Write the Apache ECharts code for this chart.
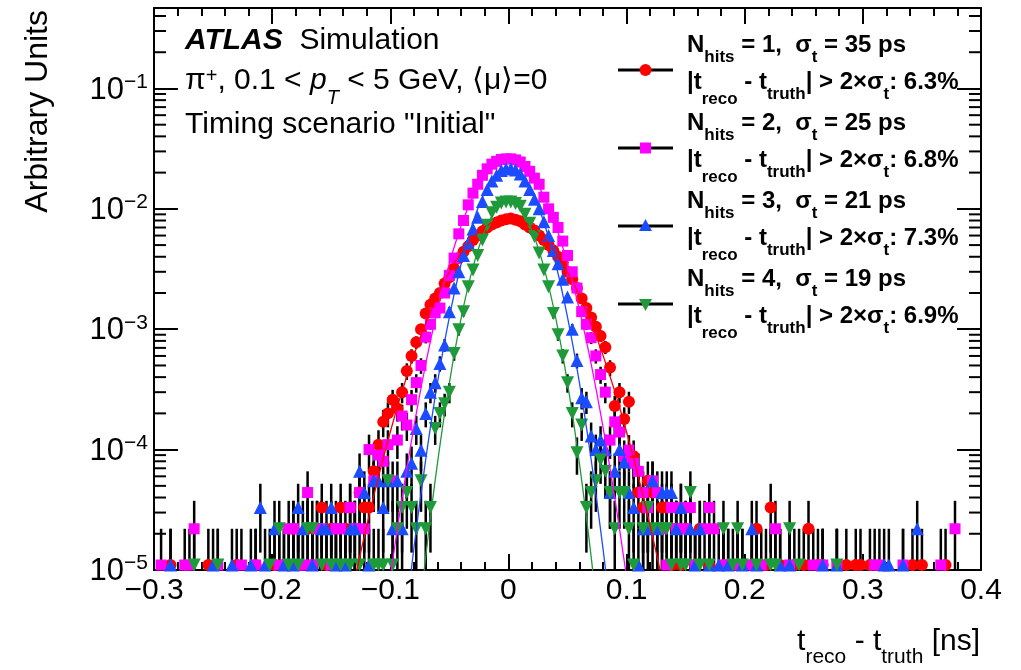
<!DOCTYPE html>
<html>
<head>
<meta charset="utf-8">
<script src="https://cdn.jsdelivr.net/npm/echarts@6/dist/echarts.min.js"></script>
<style>
  html, body { margin: 0; padding: 0; background: #fff; }
  #chart { width: 1021px; height: 670px; }
</style>
</head>
<body>
<div id="chart"></div>
<script>
// axis ranges
const XMIN = -0.3, XMAX = 0.4
const YMIN = 1e-5, YMAX = 0.466

// histogram binning: 4 ps bins starting at -0.3 ns
const BIN_LO = -0.3
const BIN_W = 0.004
// bin contents are written in units of 1e-5, one event ~ 1.1
const UNIT = 1e-5
const ENTRY = 1.1

// N_hits = 1 (red circles)
const redVals = [
  0, 0, 0, 1.1, 0, 0, 0, 0, 0, 0, 0, 1.1, 0, 0, 0, 0, 0, 1.1, 0, 0, 0, 1.1, 0, 0, 0,
  1.1, 0, 1.1, 0, 2.2, 1.1, 0, 2.2, 1.1, 2.2, 3.3, 1.1, 2.2, 1.1, 3.3, 2.2, 3.3, 2.2, 4.4, 3.3, 3.3, 6.6, 11, 17, 20,
  26, 22, 30, 45, 60, 78, 100, 135, 160, 180, 200, 240, 270, 320, 390, 440, 490, 550, 600, 650, 700, 740, 770, 800, 820,
  830, 810, 790, 740, 700, 660, 600, 550, 500, 450, 400, 360, 300, 260, 220, 180, 150, 125, 105, 88, 71, 48, 23, 30, 18,
  25, 8.8, 4.4, 3.3, 5.5, 4.4, 2.2, 3.3, 3.3, 1.1, 2.2, 1.1, 2.2, 0, 1.1, 2.2, 0, 1.1, 0, 0, 1.1, 0, 0, 1.1, 0,
  0, 1.1, 2.2, 0, 1.1, 3.3, 0, 1.1, 0, 0, 1.1, 0, 1.1, 2.2, 0, 1.1, 1.1, 0, 0, 0, 0, 1.1, 0, 1.1, 1.1,
  0, 1.1, 0, 0, 0, 0, 0, 0, 0, 0, 1.1, 0, 1.1, 0, 0, 0, 0, 1.1, 0, 0, 0, 0, 0, 0, 0
]
// N_hits = 2 (magenta squares)
const magentaVals = [
  0, 1.1, 0, 0, 0, 0, 1.1, 1.1, 2.2, 0, 0, 0, 0, 1.1, 0, 0, 0, 0, 1.1, 0, 0, 1.1, 0, 0, 0,
  0, 1.1, 0, 2.2, 2.2, 1.1, 1.1, 4.4, 1.1, 2.2, 2.2, 0, 1.1, 2.2, 2.2, 1.1, 3.3, 2.2, 4.4, 2.2, 10, 5.5, 9, 8, 11,
  5.5, 12, 19, 16, 26, 36, 50, 86, 110, 137, 150, 200, 280, 390, 620, 800, 1080, 1350, 1600, 1900, 2150, 2350, 2480, 2570, 2600,
  2600, 2550, 2450, 2250, 2050, 1800, 1600, 1250, 1000, 850, 700, 540, 410, 300, 220, 140, 110, 85, 60, 42, 30, 12, 17, 14, 8.8,
  9.9, 7.7, 6.6, 4.4, 3.3, 5.5, 4.4, 2.2, 1.1, 3.3, 2.2, 3.3, 2.2, 3.3, 1.1, 0, 2.2, 3.3, 2.2, 0, 1.1, 1.1, 0, 1.1, 0,
  0, 1.1, 0, 1.1, 0, 0, 2.2, 0, 0, 1.1, 0, 0, 0, 0, 1.1, 0, 1.1, 0, 0, 1.1, 0, 0, 0, 0, 0,
  0, 0, 1.1, 1.1, 0, 0, 0, 0, 1.1, 0, 0, 0, 0, 0, 0, 0, 1.1, 0, 0, 2.2, 0, 0, 0, 0, 0
]
// N_hits = 3 (blue triangles)
const blueVals = [
  0, 0, 0, 1.1, 0, 0, 0, 0, 0, 0, 0, 0, 1.1, 0, 0, 0, 1.1, 0, 0, 0, 1.1, 0, 3.3, 1.1, 0,
  2.2, 0, 1.1, 0, 1.1, 3.3, 2.2, 0, 1.1, 0, 2.2, 2.2, 3.3, 1.1, 0, 1.1, 2.2, 2.2, 6.6, 4.4, 1.1, 5.5, 5.5, 3.3, 5.5,
  2.2, 5.5, 2.2, 6.6, 7.7, 15, 9.9, 20, 30, 36, 52, 74, 140, 220, 300, 410, 520, 680, 850, 1150, 1450, 1700, 1900, 2080, 2150,
  2150, 2100, 1950, 1700, 1450, 1200, 1000, 780, 600, 450, 350, 260, 185, 100, 55, 27, 25, 13, 10, 12, 10, 4.4, 6.6, 10, 7.9,
  4.4, 3.3, 1.1, 2.2, 2.2, 5.5, 2.2, 4.4, 4.4, 4.4, 2.2, 3.3, 0, 2.2, 1.1, 2.2, 0, 1.1, 0, 1.1, 0, 1.1, 0, 0, 1.1,
  0, 2.2, 1.1, 0, 0, 0, 0, 1.1, 0, 1.1, 0, 0, 0, 0, 0, 0, 1.1, 0, 0, 1.1, 0, 0, 0, 0, 0,
  0, 0, 0, 0, 1.1, 1.1, 0, 0, 1.1, 0, 0, 2.2, 0, 0, 0, 0, 0, 0, 0, 0, 0, 0, 0, 0, 0
]
// N_hits = 4 (green inverted triangles)
const greenVals = [
  0, 0, 0, 0, 0, 0, 0, 0, 1.1, 0, 0, 0, 0, 1.1, 0, 0, 0, 0, 0, 0, 0, 0, 0, 0, 1.1,
  0, 2.2, 0, 1.1, 0, 1.1, 0, 2.2, 2.2, 0, 1.1, 0, 1.1, 0, 1.1, 0, 1.1, 0, 1.1, 0, 0, 1.1, 1.1, 1.1, 5.5,
  1.1, 2.2, 3.3, 4.4, 3.3, 2.2, 5.5, 2.2, 3.3, 15, 20, 24, 30, 63, 99, 140, 225, 310, 410, 550, 730, 930, 1030, 1120, 1140,
  1140, 1110, 1050, 900, 760, 590, 430, 310, 225, 135, 90, 60, 36, 20, 9.4, 16, 3.3, 4.4, 5.5, 8.2, 6.6, 4.4, 2.2, 4.4, 4.4,
  2.2, 1.1, 0, 2.2, 3.3, 2.2, 0, 2.2, 2.2, 1.1, 0, 1.1, 1.1, 4.4, 0, 1.1, 0, 1.1, 0, 0, 2.2, 0, 1.1, 2.2, 1.1,
  0, 0, 1.1, 0, 0, 1.1, 1.1, 0, 0, 2.2, 0, 1.1, 0, 0, 0, 0, 0, 0, 0, 1.1, 0, 0, 0, 0, 0,
  0, 0, 0, 0, 0, 0, 0, 0, 0, 0, 0, 0, 0, 0, 0, 0, 0, 0, 0, 0, 0, 0, 0, 0, 0
]

// fitted gaussians (same 1e-5 units)
const FIT_X = [-0.13, -0.12, -0.11, -0.10, -0.09, -0.08, -0.07, -0.06, -0.05, -0.04, -0.03, -0.02, -0.01, 0,
  0.01, 0.02, 0.03, 0.04, 0.05, 0.06, 0.07, 0.08, 0.09, 0.10, 0.11, 0.12, 0.13]
const redFit = [0.84, 2.32, 5.94, 14.0, 30.5, 60.9, 112, 191, 299, 432, 575, 705, 797, 830,
  797, 705, 575, 432, 299, 191, 112, 60.9, 30.5, 14.0, 5.94, 2.32, 0.84]
const magentaFit = [null, null, null, 0.87, 3.98, 15.5, 51.6, 146, 352, 723, 1270, 1890, 2400, 2600,
  2400, 1890, 1270, 723, 352, 146, 51.6, 15.5, 3.98, 0.87, null, null, null]
const blueFit = [null, null, null, null, 0.22, 1.52, 8.3, 36.3, 126, 350, 775, 1370, 1920, 2150,
  1920, 1370, 775, 350, 126, 36.3, 8.3, 1.52, 0.22, null, null, null, null]
const greenFit = [null, null, null, null, null, 0.16, 1.29, 7.8, 35.7, 124, 328, 655, 993, 1140,
  993, 655, 328, 124, 35.7, 7.8, 1.29, 0.16, null, null, null, null, null]

// legend entries
const nHits = ['1', '2', '3', '4']
const sigmaT = ['35', '25', '21', '19']
const tailFrac = ['6.3', '6.8', '7.3', '6.9']

const FONT = "'Liberation Sans', Arial, Helvetica, sans-serif"

const hists = [
  { vals: redVals, fit: redFit, color: '#ff0000', symbol: 'circle', size: 12, rot: 0 },
  { vals: magentaVals, fit: magentaFit, color: '#ff00ff', symbol: 'rect', size: 11, rot: 0 },
  { vals: blueVals, fit: blueFit, color: '#1c4cff', symbol: 'triangle', size: 13, rot: 0 },
  { vals: greenVals, fit: greenFit, color: '#1f9a3a', symbol: 'triangle', size: 13, rot: 180 }
]

function binCenter(k) {
  return BIN_LO + BIN_W * (k + 0.5)
}

// black vertical error bars
function errBarItem(params, api) {
  const x = api.value(0)
  const v = api.value(1)
  const e = api.value(2)
  const lo = Math.max(v - e, YMIN)
  const p0 = api.coord([x, lo])
  const p1 = api.coord([x, v + e])
  return {
    type: 'line',
    shape: { x1: p0[0], y1: p0[1], x2: p1[0], y2: p1[1] },
    style: { stroke: '#000', lineWidth: 2.5 }
  }
}

const series = []
hists.forEach(h => {
  const pts = [], bars = []
  h.vals.forEach((v, k) => {
    if (!v) return
    const x = binCenter(k)
    const err = Math.sqrt(v / ENTRY) * ENTRY
    pts.push([x, v * UNIT])
    bars.push([x, v * UNIT, err * UNIT])
  })
  series.push({
    type: 'custom',
    renderItem: errBarItem,
    data: bars,
    encode: { x: 0, y: 1 },
    silent: true
  })
  series.push({
    type: 'scatter',
    data: pts,
    symbol: h.symbol,
    symbolSize: h.size,
    symbolRotate: h.rot,
    itemStyle: { color: h.color, opacity: 1 },
    silent: true
  })
  series.push({
    type: 'line',
    data: FIT_X.map((x, i) => [x, h.fit[i] == null ? null : h.fit[i] * UNIT]),
    showSymbol: false,
    smooth: 0.4,
    lineStyle: { color: h.color, width: 1.3 },
    silent: true
  })
})

// log-axis minor ticks (2..9 x 10^n) on left and right frame
const minorY = []
for (let p = -5; p <= -1; p++) {
  for (let m = 2; m <= 9; m++) {
    const v = m * Math.pow(10, p)
    if (v < YMAX) minorY.push([XMIN, v])
  }
}
series.push({
  type: 'custom',
  data: minorY,
  encode: { x: 0, y: 1 },
  silent: true,
  z: 5,
  renderItem: function (params, api) {
    const l = api.coord([XMIN, api.value(1)])
    const r = api.coord([XMAX, api.value(1)])
    return {
      type: 'group',
      children: [
        { type: 'line', shape: { x1: l[0], y1: l[1], x2: l[0] + 12, y2: l[1] }, style: { stroke: '#000', lineWidth: 2 } },
        { type: 'line', shape: { x1: r[0], y1: r[1], x2: r[0] - 12, y2: r[1] }, style: { stroke: '#000', lineWidth: 2 } }
      ]
    }
  }
})

const axisLine = { show: true, onZero: false, lineStyle: { color: '#000', width: 2 } }

function xAxisCfg(pos, labels) {
  return {
    type: 'value',
    position: pos,
    min: XMIN,
    max: XMAX,
    interval: 0.1,
    axisLine: axisLine,
    axisTick: { show: true, inside: true, length: 16, lineStyle: { color: '#000', width: 2 } },
    minorTick: { show: true, splitNumber: 5, length: 8, lineStyle: { color: '#000', width: 2 } },
    splitLine: { show: false },
    minorSplitLine: { show: false },
    axisLabel: {
      show: labels,
      margin: 6,
      color: '#000',
      fontFamily: FONT,
      fontSize: 30,
      formatter: function (v) {
        const r = Math.round(v * 10) / 10
        if (r === 0) return '0'
        return (r < 0 ? '\u2212' : '') + Math.abs(r).toFixed(1)
      }
    }
  }
}

function yAxisCfg(pos, labels) {
  return {
    type: 'log',
    logBase: 10,
    position: pos,
    min: YMIN,
    max: YMAX,
    axisLine: axisLine,
    axisTick: { show: true, inside: true, length: 24, lineStyle: { color: '#000', width: 2 } },
    splitLine: { show: false },
    axisLabel: {
      show: labels,
      margin: 6,
      showMaxLabel: false,
      color: '#000',
      fontFamily: FONT,
      formatter: function (v) {
        const e = Math.log10(v)
        const r = Math.round(e)
        if (Math.abs(e - r) > 1e-6) return ''
        return '{b|10}{s|\u2212' + Math.abs(r) + '}'
      },
      rich: {
        b: { fontSize: 31, fontFamily: FONT, color: '#000', lineHeight: 34, verticalAlign: 'bottom' },
        s: { fontSize: 21, fontFamily: FONT, color: '#000', lineHeight: 20, verticalAlign: 'top' }
      }
    }
  }
}

// legend text styles (bold ROOT-like text with subscripts)
const legRich = {
  b: { fontSize: 24, fontWeight: 'bold', fontFamily: FONT, lineHeight: 28, verticalAlign: 'top', fill: '#000' },
  s: { fontSize: 17, fontWeight: 'bold', fontFamily: FONT, lineHeight: 17, padding: [16, 0, 0, 0], verticalAlign: 'top', fill: '#000' },
  s2: { fontSize: 17, fontWeight: 'bold', fontFamily: FONT, lineHeight: 17, padding: [21, 0, 0, 0], verticalAlign: 'top', fill: '#000' }
}

const graphics = []
hists.forEach((h, i) => {
  const ym = 70 + 78 * i
  const cx = 645.5
  let marker
  if (h.symbol === 'circle') {
    marker = { type: 'circle', shape: { cx: cx, cy: ym, r: 6 }, style: { fill: h.color } }
  } else if (h.symbol === 'rect') {
    marker = { type: 'rect', shape: { x: cx - 5.5, y: ym - 5.5, width: 11, height: 11 }, style: { fill: h.color } }
  } else if (h.rot === 0) {
    marker = { type: 'polygon', shape: { points: [[cx, ym - 7], [cx + 6.5, ym + 5], [cx - 6.5, ym + 5]] }, style: { fill: h.color } }
  } else {
    marker = { type: 'polygon', shape: { points: [[cx - 6.5, ym - 5], [cx + 6.5, ym - 5], [cx, ym + 7]] }, style: { fill: h.color } }
  }
  graphics.push({ type: 'line', shape: { x1: 618, y1: ym, x2: 673, y2: ym }, style: { stroke: '#000', lineWidth: 3 } })
  graphics.push(marker)
  graphics.push({
    type: 'text',
    style: {
      x: 687, y: 33 + 78 * i, align: 'left', verticalAlign: 'top', fill: '#000',
      text: '{b|N}{s|hits}{b| = ' + nHits[i] + ',  \u03c3}{s|t}{b| = ' + sigmaT[i] + ' ps}',
      rich: legRich
    }
  })
  graphics.push({
    type: 'text',
    style: {
      x: 687, y: 70 + 78 * i, align: 'left', verticalAlign: 'top', fill: '#000',
      text: '{b||t}{s2|reco}{b| - t}{s|truth}{b|| > 2\u00d7\u03c3}{s|t}{b|: ' + tailFrac[i] + '%}',
      rich: legRich
    }
  })
})

const labRich = {
  a: { fontSize: 30, fontWeight: 'bold', fontStyle: 'italic', fontFamily: FONT, lineHeight: 34, verticalAlign: 'top', fill: '#000' },
  r: { fontSize: 30, fontFamily: FONT, lineHeight: 34, verticalAlign: 'top', fill: '#000' },
  i: { fontSize: 30, fontStyle: 'italic', fontFamily: FONT, lineHeight: 34, verticalAlign: 'top', fill: '#000' },
  sup: { fontSize: 20, fontFamily: FONT, lineHeight: 20, verticalAlign: 'top', fill: '#000' },
  sub: { fontSize: 20, fontStyle: 'italic', fontFamily: FONT, lineHeight: 20, padding: [22, 0, 0, 0], verticalAlign: 'top', fill: '#000' },
  u: { fontSize: 21, fontFamily: FONT, lineHeight: 21, padding: [20, 0, 0, 0], verticalAlign: 'top', fill: '#000' }
}

graphics.push({
  type: 'text',
  style: { x: 185, y: 26, align: 'left', verticalAlign: 'top', fill: '#000', text: '{a|ATLAS}{r|  Simulation}', rich: labRich }
})
graphics.push({
  type: 'text',
  style: {
    x: 185, y: 66, align: 'left', verticalAlign: 'top', fill: '#000',
    text: '{r|\u03c0}{sup|+}{r|, 0.1 < }{i|p}{sub|T}{r| < 5 GeV, \u27e8\u03bc\u27e9=0}',
    rich: labRich
  }
})
graphics.push({
  type: 'text',
  style: { x: 185, y: 110, align: 'left', verticalAlign: 'top', fill: '#000', text: '{r|Timing scenario "Initial"}', rich: labRich }
})
// axis titles
graphics.push({
  type: 'text',
  x: 38, y: 10, rotation: Math.PI / 2,
  style: { x: 0, y: 0, align: 'right', verticalAlign: 'middle', fill: '#000', text: 'Arbitrary Units', font: '32px ' + FONT }
})
graphics.push({
  type: 'text',
  style: {
    x: 980, y: 627, align: 'right', verticalAlign: 'top', fill: '#000',
    text: '{r|t}{u|reco}{r| - t}{u|truth}{r| [ns]}',
    rich: labRich
  }
})

const chart = echarts.init(document.getElementById('chart'), null, { renderer: 'canvas' })
chart.setOption({
  animation: false,
  backgroundColor: '#fff',
  grid: { left: 154, right: 40, top: 8, bottom: 100, containLabel: false },
  xAxis: [xAxisCfg('bottom', true), xAxisCfg('top', false)],
  yAxis: [yAxisCfg('left', true), yAxisCfg('right', false)],
  series: series,
  graphic: graphics
})
</script>
</body>
</html>
